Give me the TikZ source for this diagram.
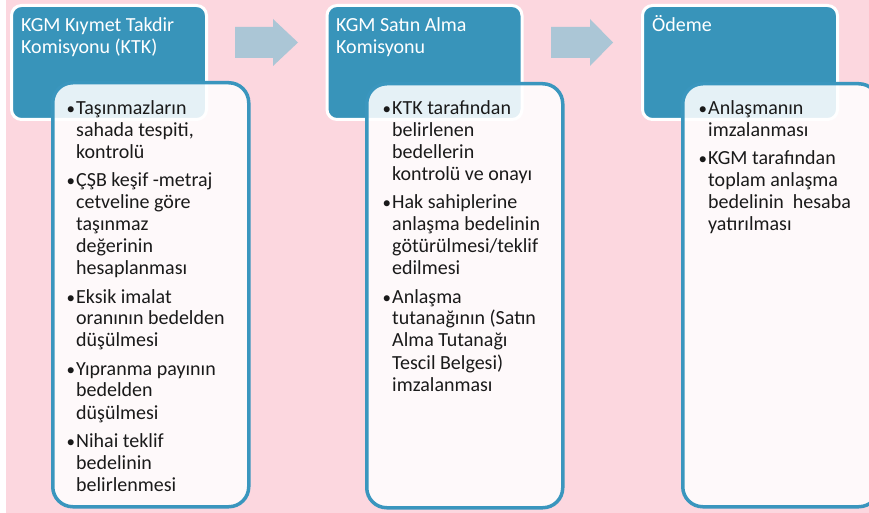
\documentclass[tikz,border=0pt]{standalone}
\usepackage{fontspec}
\setmainfont{Carlito}
\definecolor{bgpink}{HTML}{FCD7DF}
\definecolor{boxblue}{HTML}{3894BA}
\definecolor{lineblue}{HTML}{3A96BE}
\definecolor{arrowblue}{HTML}{ABC6D6}
\definecolor{txt}{HTML}{1A1A1A}
\newcommand{\bitem}[1]{\noindent\llap{\scalebox{0.85}{•}\kern1pt}#1\par}
\newcommand{\itemsbox}[1]{\vtop{\hsize=180pt\fontsize{20}{22}\selectfont\parindent=0pt\parskip=6pt #1}}
\newcommand{\titlebox}[1]{\vtop{\hsize=185pt\fontsize{20}{22}\selectfont\parindent=0pt #1\par}}
\tikzset{
  headbox/.style={draw=white, line width=3pt, fill=boxblue, rounded corners=10pt, anchor=north west, minimum width=195pt, minimum height=114pt, inner sep=0pt},
  listbox/.style={draw=lineblue, line width=3.5pt, fill=white, fill opacity=0.87, draw opacity=1, rounded corners=20pt, anchor=north west, minimum width=196pt, minimum height=424pt, inner sep=0pt},
  headtext/.style={anchor=base west, inner sep=0pt, text=white},
  listtext/.style={anchor=base west, inner sep=0pt, text=txt},
  blockarrow/.style={fill=arrowblue, draw=none}
}
\begin{document}
\begin{tikzpicture}[x=1pt, y=-1pt]
\useasboundingbox (0,0) rectangle (869,513);
\clip (0,0) rectangle (869,513);
\fill[white] (0,0) rectangle (869,513);
\fill[bgpink] (6,0) rectangle (869,513);
% heading boxes
\node[headbox] (h1) at (10,4) {};
\node[headbox] (h2) at (325.5,4) {};
\node[headbox] (h3) at (641,4) {};
\node[headtext] (t1) at (21,32) {\titlebox{KGM Kıymet Takdir\newline Komisyonu (KTK)}};
\node[headtext] (t2) at (336,32) {\titlebox{KGM Satın Alma\newline Komisyonu}};
\node[headtext] (t3) at (652,32) {\titlebox{Ödeme}};
% arrows
\coordinate (a1) at (235,27);
\coordinate (a2) at (551,27);
\fill[blockarrow] (a1) -- ++(38,0) -- ++(0,-8) -- ++(25,23.5) -- ++(-25,23.5) -- ++(0,-8) -- ++(-38,0) -- cycle;
\fill[blockarrow] (a2) -- ++(39,0) -- ++(0,-8) -- ++(23,23.5) -- ++(-23,23.5) -- ++(0,-8) -- ++(-39,0) -- cycle;
% list boxes
\node[listbox] (b1) at (51,81) {};
\node[listbox] (b2) at (365,82) {};
\node[listbox, minimum height=423pt] (b3) at (681,82) {};
\node[listtext] (l1) at (76,115) {\itemsbox{%
\bitem{Taşınmazların\newline sahada tespiti,\newline kontrolü}
\bitem{ÇŞB keşif -metraj\newline cetveline göre\newline taşınmaz\newline değerinin\newline hesaplanması}
\bitem{Eksik imalat\newline oranının bedelden\newline düşülmesi}
\bitem{Yıpranma payının\newline bedelden\newline düşülmesi}
\bitem{Nihai teklif\newline bedelinin\newline belirlenmesi}}};
\node[listtext] (l2) at (392,115) {\itemsbox{%
\bitem{KTK tarafından\newline belirlenen\newline bedellerin\newline kontrolü ve onayı}
\bitem{Hak sahiplerine\newline anlaşma bedelinin\newline götürülmesi/teklif\newline edilmesi}
\bitem{Anlaşma\newline tutanağının (Satın\newline Alma Tutanağı\newline Tescil Belgesi)\newline imzalanması}}};
\node[listtext] (l3) at (708,115) {\itemsbox{%
\bitem{Anlaşmanın\newline imzalanması}
\bitem{KGM tarafından\newline toplam anlaşma\newline bedelinin\ \ hesaba\newline yatırılması}}};
\end{tikzpicture}
\end{document}
